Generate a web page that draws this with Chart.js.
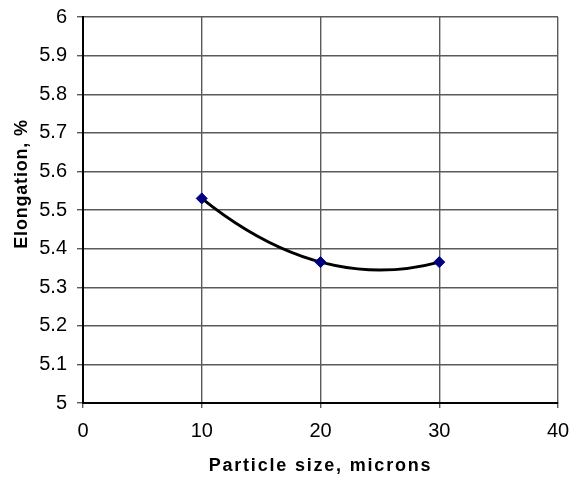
<!DOCTYPE html>
<html>
<head>
<meta charset="utf-8">
<script src="https://cdn.jsdelivr.net/npm/chart.js@4"></script>
<style>
    html, body { margin: 0; padding: 0; background: #fff; }
    #wrap { width: 576px; height: 477px; position: relative; }
</style>
</head>
<body>
<div id="wrap"><canvas id="chart"></canvas></div>
<script>
    // particle size (microns) vs elongation (%)
    const particleSizes = [10, 20, 30]
    const elongation = [5.53, 5.365, 5.365]
    const xTicks = [0, 10, 20, 30, 40]
    const yTicks = [5, 5.1, 5.2, 5.3, 5.4, 5.5, 5.6, 5.7, 5.8, 5.9, 6]
    const xTitle = "Particle size, microns"
    const yTitle = "Elongation, %"

    const FONT = "'Liberation Sans', Arial, sans-serif"

    // least-squares 2nd order polynomial y = a + b*x + c*x^2
    function polyFit2(xs, ys) {
        const s = [0, 0, 0, 0, 0]
        const t = [0, 0, 0]
        xs.forEach((x, i) => {
            for (let k = 0; k < 5; k++) s[k] += x ** k
            for (let k = 0; k < 3; k++) t[k] += ys[i] * x ** k
        })
        const m = [
            [s[0], s[1], s[2]],
            [s[1], s[2], s[3]],
            [s[2], s[3], s[4]],
        ]
        const det = (q) =>
            q[0][0] * (q[1][1] * q[2][2] - q[1][2] * q[2][1]) -
            q[0][1] * (q[1][0] * q[2][2] - q[1][2] * q[2][0]) +
            q[0][2] * (q[1][0] * q[2][1] - q[1][1] * q[2][0])
        const d = det(m)
        return [0, 1, 2].map((col) => det(m.map((row, r) => row.map((v, c) => (c === col ? t[r] : v)))) / d)
    }

    // polynomial trendline, drawn under the markers
    const trendPlugin = {
        id: "trend",
        beforeDatasetsDraw(chart) {
            const [a, b, c] = polyFit2(particleSizes, elongation)
            const f = (x) => a + b * x + c * x * x
            const df = (x) => b + 2 * c * x
            const x0 = Math.min(...particleSizes)
            const x1 = Math.max(...particleSizes)
            const xm = (x0 + x1) / 2
            const sx = chart.scales.x
            const sy = chart.scales.y
            const ctx = chart.ctx
            ctx.save()
            ctx.strokeStyle = "#000"
            ctx.lineWidth = 3
            ctx.lineJoin = "round"
            ctx.beginPath()
            ctx.moveTo(sx.getPixelForValue(x0), sy.getPixelForValue(f(x0)))
            // a parabola segment is exactly one quadratic Bezier
            ctx.quadraticCurveTo(
                sx.getPixelForValue(xm),
                sy.getPixelForValue(f(x0) + df(x0) * (xm - x0)),
                sx.getPixelForValue(x1),
                sy.getPixelForValue(f(x1))
            )
            ctx.stroke()
            ctx.restore()
        },
    }

    // axis titles drawn by hand for the letter spacing
    const titlesPlugin = {
        id: "titles",
        afterDraw(chart) {
            const ctx = chart.ctx
            const area = chart.chartArea
            ctx.save()
            ctx.fillStyle = "#000"
            ctx.textAlign = "center"
            ctx.textBaseline = "middle"
            ctx.font = `bold 18px ${FONT}`
            ctx.letterSpacing = "1.8px"
            ctx.fillText(xTitle, (area.left + area.right) / 2, 466)
            ctx.translate(22, 184)
            ctx.rotate(-Math.PI / 2)
            ctx.letterSpacing = "0.8px"
            ctx.fillText(yTitle, 0, 0)
            ctx.restore()
        },
    }

    new Chart(document.getElementById("chart"), {
        type: "scatter",
        data: {
            datasets: [
                {
                    data: particleSizes.map((x, i) => ({ x, y: elongation[i] })),
                    showLine: false,
                    pointStyle: "rectRot",
                    pointRadius: 5.5,
                    pointBackgroundColor: "#000080",
                    pointBorderColor: "#000080",
                    pointBorderWidth: 1,
                },
            ],
        },
        options: {
            responsive: true,
            maintainAspectRatio: false,
            animation: false,
            layout: { padding: { top: 17, right: 18, left: 0, bottom: 0 } },
            plugins: { legend: { display: false }, tooltip: { enabled: false } },
            scales: {
                x: {
                    type: "linear",
                    min: 0,
                    max: 40,
                    afterBuildTicks(axis) {
                        axis.ticks = xTicks.map((value) => ({ value }))
                    },
                    afterFit(axis) {
                        axis.height = 74
                        axis.paddingLeft = 0
                        axis.paddingRight = 0
                    },
                    grid: { color: "#5a5a5a", lineWidth: 1.4, tickLength: 5 },
                    border: { color: "#000", width: 2 },
                    ticks: { color: "#000", font: { family: FONT, size: 20 }, padding: 11 },
                },
                y: {
                    type: "linear",
                    min: 5,
                    max: 6,
                    afterBuildTicks(axis) {
                        axis.ticks = yTicks.map((value) => ({ value }))
                    },
                    afterFit(axis) {
                        axis.width = 83
                        axis.paddingTop = 0
                        axis.paddingBottom = 0
                    },
                    grid: { color: "#5a5a5a", lineWidth: 1.4, tickLength: 6 },
                    border: { color: "#000", width: 2 },
                    ticks: {
                        color: "#000",
                        font: { family: FONT, size: 20 },
                        padding: 10,
                        callback: (v) => String(Math.round(v * 10) / 10),
                    },
                },
            },
        },
        plugins: [trendPlugin, titlesPlugin],
    })
</script>
</body>
</html>
